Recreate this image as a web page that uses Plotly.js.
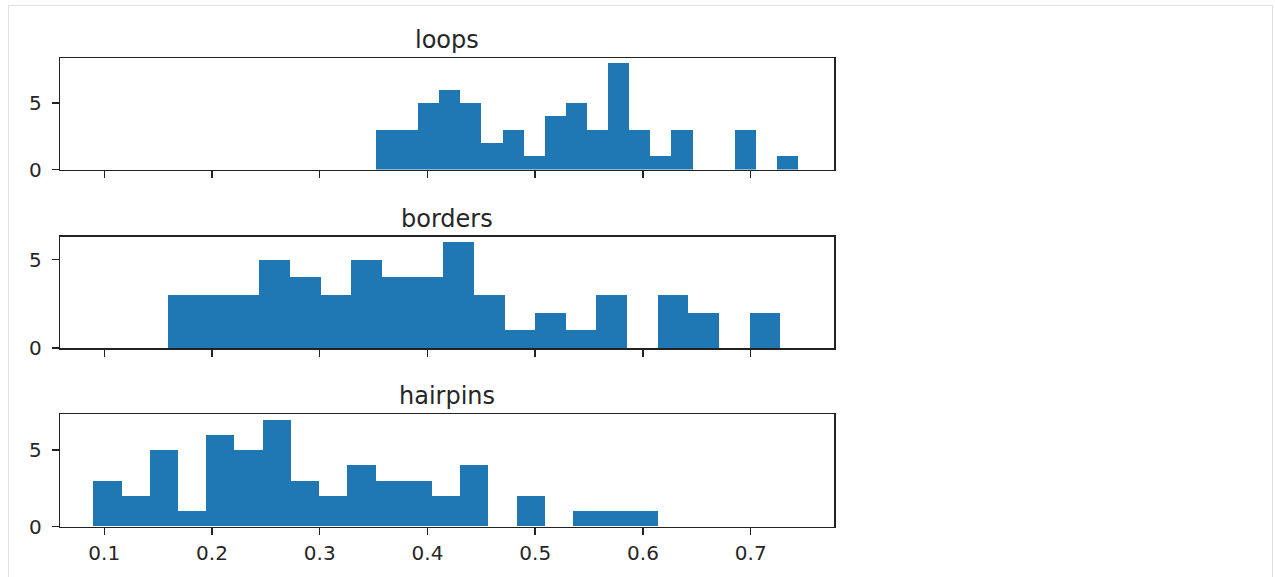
<!DOCTYPE html>
<html>
<head>
<meta charset="utf-8">
<script src="https://cdn.plot.ly/plotly-3.0.1.min.js"></script>
<style>
html, body { margin: 0; padding: 0; background: #ffffff; }
#chart { width: 1275px; height: 577px; }
</style>
</head>
<body>
<div id="chart"></div>
<script>
// ---- data ----
const panelTitles = ["loops", "borders", "hairpins"];

const loopsCounts    = [3, 3, 5, 6, 5, 2, 3, 1, 4, 5, 3, 8, 3, 1, 3, 0, 0, 3, 0, 1];
const loopsBinStart  = 0.3520;
const loopsBinEnd    = 0.7441;

const bordersCounts   = [3, 3, 3, 5, 4, 3, 5, 4, 4, 6, 3, 1, 2, 1, 3, 0, 3, 2, 0, 2];
const bordersBinStart = 0.1587;
const bordersBinEnd   = 0.7275;

const hairpinsCounts   = [3, 2, 5, 1, 6, 5, 7, 3, 2, 4, 3, 3, 2, 4, 0, 2, 0, 1, 1, 1];
const hairpinsBinStart = 0.0898;
const hairpinsBinEnd   = 0.6138;

const xTickVals = [0.1, 0.2, 0.3, 0.4, 0.5, 0.6, 0.7];
const xTickText = ["0.1", "0.2", "0.3", "0.4", "0.5", "0.6", "0.7"];
const yTickVals = [0, 5];
const yTickText = ["0", "5"];

// ---- build traces ----
function histTrace(counts, start, end, axisIdx) {
  const n = counts.length;
  const w = (end - start) / n;
  const centers = counts.map((_, i) => start + (i + 0.5) * w);
  return {
    type: "bar",
    x: centers,
    y: counts,
    width: counts.map(() => w),
    marker: { color: "#1f77b4", line: { width: 0 } },
    xaxis: axisIdx === 1 ? "x" : "x" + axisIdx,
    yaxis: axisIdx === 1 ? "y" : "y" + axisIdx,
    hoverinfo: "x+y",
    showlegend: false
  };
}

const data = [
  histTrace(loopsCounts, loopsBinStart, loopsBinEnd, 1),
  histTrace(bordersCounts, bordersBinStart, bordersBinEnd, 2),
  histTrace(hairpinsCounts, hairpinsBinStart, hairpinsBinEnd, 3)
];

const W = 1275, H = 577;
const xDom = [60.3 / W, 834 / W];
const yDoms = [
  [1 - 169.5 / H, 1 - 58 / H],
  [1 - 348 / H, 1 - 236.5 / H],
  [1 - 526.5 / H, 1 - 414.3 / H]
];
const yMax = [8.4, 6.3, 7.35];
const xRange = [0.0592, 0.7773];

const fontFam = "DejaVu Sans, sans-serif";
const layout = {
  width: W, height: H,
  margin: { l: 0, r: 0, t: 0, b: 0, pad: 0 },
  paper_bgcolor: "#ffffff",
  plot_bgcolor: "#ffffff",
  bargap: 0,
  font: { family: fontFam, size: 20, color: "#262626" },
  showlegend: false,
  annotations: [],
  shapes: [
    { type: "line", xref: "paper", yref: "paper", x0: 8.5 / W, x1: 8.5 / W, y0: 0, y1: 1 - 5 / H, line: { color: "#e0e0e0", width: 1 } },
    { type: "line", xref: "paper", yref: "paper", x0: 8.5 / W, x1: 1272.5 / W, y0: 1 - 5.5 / H, y1: 1 - 5.5 / H, line: { color: "#e0e0e0", width: 1 } },
    { type: "line", xref: "paper", yref: "paper", x0: 1272.5 / W, x1: 1272.5 / W, y0: 0, y1: 1 - 5 / H, line: { color: "#e0e0e0", width: 1 } }
  ]
};

for (let i = 0; i < 3; i++) {
  const sfx = i === 0 ? "" : String(i + 1);
  layout["xaxis" + sfx] = {
    domain: xDom,
    anchor: "y" + sfx,
    range: xRange,
    tickmode: "array",
    tickvals: xTickVals,
    ticktext: xTickText,
    showticklabels: i === 2,
    ticks: "outside",
    ticklen: 7,
    tickwidth: 1.5,
    tickcolor: "#222",
    showgrid: false,
    zeroline: false,
    showline: true,
    linecolor: "#222",
    linewidth: 1.5,
    mirror: true,
    ticklabelstandoff: 1,
    tickfont: { family: fontFam, size: 20, color: "#262626" },
    fixedrange: true
  };
  layout["yaxis" + sfx] = {
    domain: yDoms[i],
    anchor: "x" + sfx,
    range: [0, yMax[i]],
    tickmode: "array",
    tickvals: yTickVals,
    ticktext: yTickText,
    ticks: "outside",
    ticklen: 7,
    tickwidth: 1.5,
    tickcolor: "#222",
    showgrid: false,
    zeroline: false,
    showline: true,
    linecolor: "#222",
    linewidth: 1.5,
    mirror: true,
    ticklabelstandoff: 6,
    tickfont: { family: fontFam, size: 20, color: "#262626" },
    fixedrange: true
  };
  layout.annotations.push({
    text: panelTitles[i],
    xref: "paper", yref: "paper",
    x: (xDom[0] + xDom[1]) / 2,
    y: yDoms[i][1],
    xanchor: "center", yanchor: "bottom",
    yshift: 2,
    showarrow: false,
    font: { family: fontFam, size: 24, color: "#262626" }
  });
}

Plotly.newPlot("chart", data, layout, { staticPlot: true, displayModeBar: false });
</script>
</body>
</html>
